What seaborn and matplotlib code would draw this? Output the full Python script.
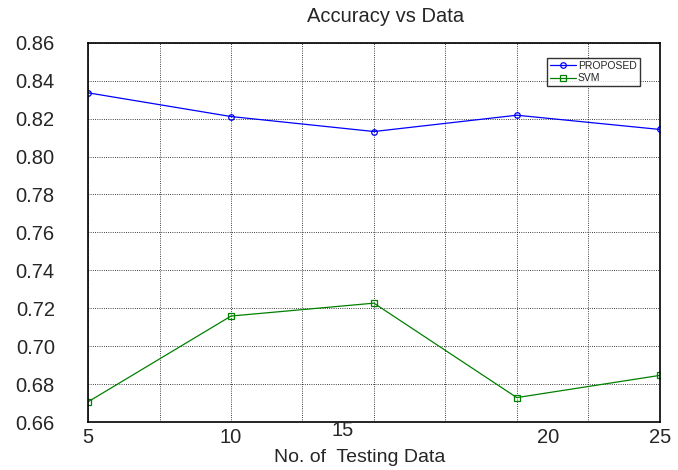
"""
Accuracy vs amount of testing data: proposed method against SVM.
"""

import matplotlib
matplotlib.use('Agg')
import matplotlib.pyplot as plt
import seaborn as sns
import pandas as pd

# data
n_testing = [5, 10, 15, 20, 25]
acc_proposed = [0.8336, 0.8211, 0.8132, 0.8218, 0.8143]
acc_svm = [0.6707, 0.7159, 0.7227, 0.6729, 0.6846]

# the original puts its x labels a little off the grid positions
xlabel_values = ['5', '10', '15', '20', '25']
xlabel_positions = [5, 10, 13.9, 21.1, 25]
xlabel_raise = [0, 0, 0.0037, 0, 0]

sns.set_style('white')
plt.rcParams['font.family'] = ['Liberation Sans', 'DejaVu Sans']

df = pd.DataFrame({
    'x': n_testing * 2,
    'acc': acc_proposed + acc_svm,
    'method': ['PROPOSED'] * len(n_testing) + ['SVM'] * len(n_testing),
})

fig = plt.figure(figsize=(6.78, 4.70), dpi=100)
ax = fig.add_axes([0.130, 0.102, 0.843, 0.807])

sns.lineplot(data=df, x='x', y='acc', hue='method', style='method',
             palette={'PROPOSED': '#0000ff', 'SVM': '#008000'},
             markers={'PROPOSED': 'o', 'SVM': 's'}, dashes=False,
             markersize=4, markerfacecolor='none', linewidth=0.9,
             ax=ax)

# open markers in the line colour
for line in ax.lines:
    line.set_markeredgecolor(line.get_color())
    line.set_markerfacecolor('none')
    line.set_markeredgewidth(0.9)

ax.set_xlim(5, 25)
ax.set_ylim(0.66, 0.86)
ax.set_xticks([5 + 2.5 * i for i in range(9)])
ax.set_xticklabels([])
ax.set_yticks([0.66 + 0.02 * i for i in range(11)])
ax.set_yticklabels(['%.2f' % (0.66 + 0.02 * i) for i in range(11)], fontsize=14.5)
ax.tick_params(axis='both', length=0)
ax.tick_params(axis='y', pad=24)
ax.grid(True, color='black', linestyle=':', linewidth=0.6)
for s in ax.spines.values():
    s.set_color('black')
    s.set_linewidth(1.2)

for lab, pos, up in zip(xlabel_values, xlabel_positions, xlabel_raise):
    ax.text(pos, 0.66 - 0.0079 + up, lab, ha='center', va='center', fontsize=14.5)

ax.set_xlabel('')
ax.set_ylabel('')
fig.text(0.530, 0.026, 'No. of  Testing Data', ha='center', va='center', fontsize=14)
fig.text(0.5686, 0.964, 'Accuracy vs Data', ha='center', va='center', fontsize=14.5)

leg = ax.legend(loc='upper right', bbox_to_anchor=(0.965, 0.96), fontsize=7.5,
                frameon=True, fancybox=False, edgecolor='black',
                borderpad=0.3, handlelength=2.5, handletextpad=0.2,
                labelspacing=0.2, borderaxespad=0)
leg.get_frame().set_linewidth(1.0)

fig.savefig('out.png', dpi=100)
